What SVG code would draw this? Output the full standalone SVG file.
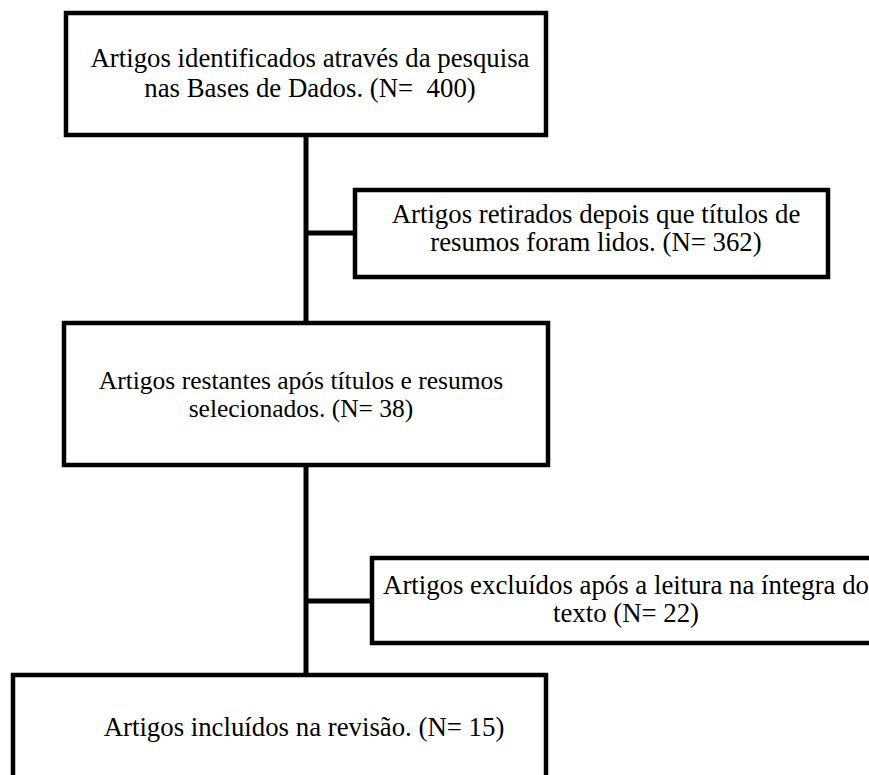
<svg xmlns="http://www.w3.org/2000/svg" width="869" height="775" viewBox="0 0 869 775">
<style>
.box{fill:#fff;stroke:#000;stroke-width:4.5}
.conn{fill:none;stroke:#000;stroke-width:5}
.t{font-family:'Liberation Serif',Tinos,'Times New Roman',serif;font-size:26.8px;fill:#000;text-anchor:middle}
.s{font-size:25.5px}
</style>
<rect width="869" height="775" fill="#fff"/>
<g id="connectors">
<line class="conn" x1="306" y1="135" x2="306" y2="323"/>
<line class="conn" x1="306" y1="233" x2="355" y2="233"/>
<line class="conn" x1="306" y1="465" x2="306" y2="675"/>
<line class="conn" x1="306" y1="601" x2="372" y2="601"/>
</g>
<g id="n1">
<rect class="box" x="66" y="13" width="480" height="122"/>
<text class="t" x="310" y="67">Artigos identificados através da pesquisa</text>
<text class="t" x="310" y="97" xml:space="preserve">nas Bases de Dados. (N=  400)</text>
</g>
<g id="n2">
<rect class="box" x="355" y="190" width="473" height="87"/>
<text class="t" x="596" y="223">Artigos retirados depois que títulos de</text>
<text class="t" x="596" y="251">resumos foram lidos. (N= 362)</text>
</g>
<g id="n3">
<rect class="box" x="64" y="323" width="484" height="142"/>
<text class="t s" x="301" y="389">Artigos restantes após títulos e resumos</text>
<text class="t s" x="301" y="417">selecionados. (N= 38)</text>
</g>
<g id="n4">
<rect class="box" x="372" y="558" width="510" height="85"/>
<text class="t" x="626" y="594">Artigos excluídos após a leitura na íntegra do</text>
<text class="t" x="626" y="622">texto (N= 22)</text>
</g>
<g id="n5">
<rect class="box" x="13" y="675" width="533" height="110"/>
<text class="t" x="304" y="736">Artigos incluídos na revisão. (N= 15)</text>
</g>
</svg>
